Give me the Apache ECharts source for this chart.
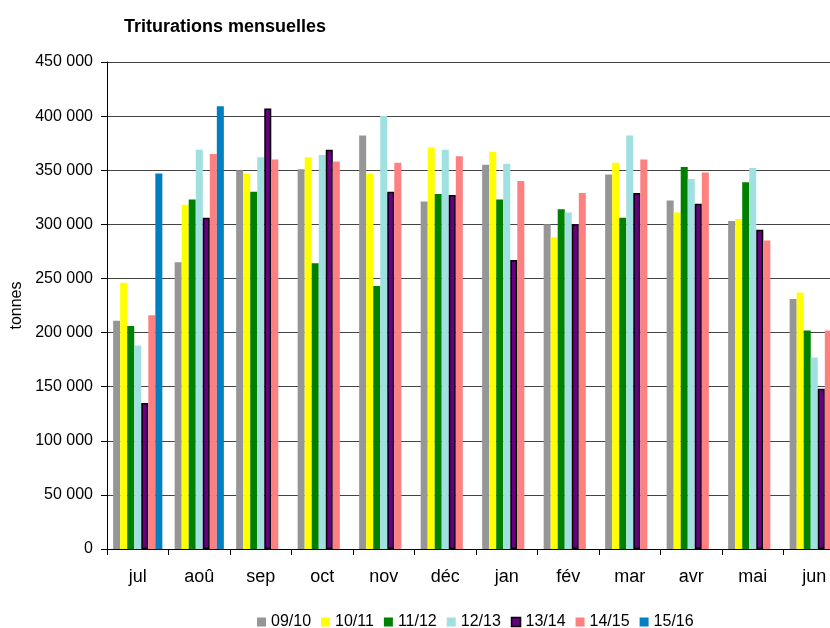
<!DOCTYPE html>
<html><head><meta charset="utf-8">
<script src="https://cdn.jsdelivr.net/npm/echarts@6/dist/echarts.min.js"></script>
<style>html,body{margin:0;padding:0;background:#fff;overflow:hidden}#c{width:860px;height:628px}</style>
</head><body><div id="c"></div>
<script>
const categories = ['jul','aoû','sep','oct','nov','déc','jan','fév','mar','avr','mai','jun'];
const seriesNames = ['09/10','10/11','11/12','12/13','13/14','14/15','15/16'];
const s0910 = [211000,265000,350000,351000,382000,321000,355000,300000,346000,322000,303000,231000];
const s1011 = [246000,318000,347000,362000,347000,371000,367000,288000,357000,311000,305000,237000];
const s1112 = [206000,323000,330000,264000,243000,328000,323000,314000,306000,353000,339000,202000];
const s1213 = [188000,369000,362000,364000,400000,369000,356000,311000,382000,342000,352000,177000];
const s1314 = [135000,306000,407000,369000,330000,327000,267000,300000,329000,319000,295000,148000];
const s1415 = [216000,365000,360000,358000,357000,363000,340000,329000,360000,348000,285000,202000];
const s1516 = [347000,409000,null,null,null,null,null,null,null,null,null,null];
const yTicks = [0,50000,100000,150000,200000,250000,300000,350000,400000,450000];

const colors = ['#969696','#FFFF00','#008000','#A0E0E0','#660080','#FF8080','#0080C0'];
const allData = [s0910,s1011,s1112,s1213,s1314,s1415,s1516];
const font = 'Liberation Sans, Arial, sans-serif';
function fmt(v){return String(v).replace(/\B(?=(\d{3})+(?!\d))/g,' ');}

const chart = echarts.init(document.getElementById('c'), null, {renderer:'canvas'});
chart.setOption({
  animation:false,
  backgroundColor:'#fff',
  title:{text:'Triturations mensuelles',left:119,top:13,textStyle:{fontFamily:font,fontSize:18,fontWeight:'bold',color:'#000'}},
  legend:{
    top:609,left:252,itemWidth:9,itemHeight:9,itemGap:10,
    textStyle:{fontFamily:font,fontSize:16,color:'#000'},
    data:seriesNames.map((n,i)=>({name:n,icon:'rect',itemStyle:i===4?{borderColor:'#000',borderWidth:1.5}:{}}))
  },
  grid:{left:107,top:62,width:738,height:487,containLabel:false},
  xAxis:{type:'category',data:categories,
    axisLine:{lineStyle:{color:'#000',width:1}},
    axisTick:{show:true,length:6,lineStyle:{color:'#000'},alignWithLabel:false},
    axisLabel:{fontFamily:font,fontSize:18,color:'#000',margin:19},
    splitLine:{show:false}},
  yAxis:{type:'value',min:yTicks[0],max:yTicks[yTicks.length-1],interval:50000,
    name:'tonnes',nameLocation:'middle',nameGap:79,nameRotate:90,
    nameTextStyle:{fontFamily:font,fontSize:16,color:'#000'},
    axisLine:{show:true,lineStyle:{color:'#000'}},
    axisTick:{show:true,length:6,lineStyle:{color:'#000'}},
    axisLabel:{fontFamily:font,fontSize:16,color:'#000',margin:14,formatter:v=>fmt(v)},
    splitLine:{show:true,lineStyle:{color:'#444',width:1}}},
  series:allData.map((d,i)=>({
    name:seriesNames[i],type:'bar',data:d,barGap:'0%',barCategoryGap:'20%',
    itemStyle:Object.assign({color:colors[i]}, i===4?{borderColor:'#000',borderWidth:1.5}:{})
  }))
});
</script></body></html>
